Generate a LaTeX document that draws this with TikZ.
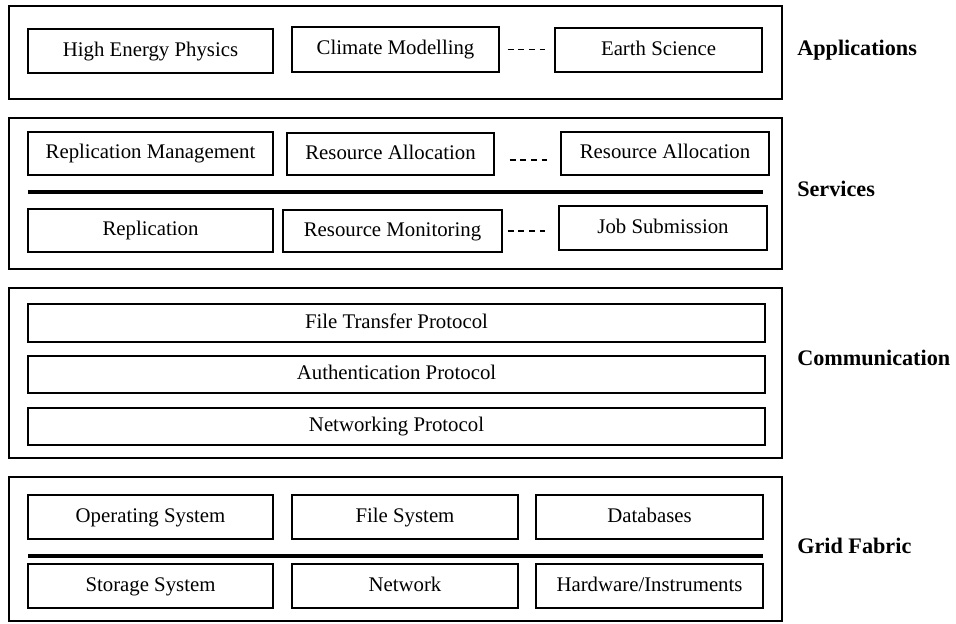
\documentclass[tikz,border=0pt]{standalone}
\usepackage{fontspec}
\setmainfont{Liberation Serif}
\usepackage{xcolor}
\usepackage{tikz}

\begin{document}
\begin{tikzpicture}[
  layerbox/.style={draw, rectangle, line width=1.4pt, minimum width=19.325cm},
  unitbox/.style={draw, rectangle, line width=0.9pt, fill=white, inner sep=0pt, text height=0.36cm, text depth=0.1cm, font=\fontsize{0.52cm}{0.62cm}\selectfont},
  layername/.style={anchor=west, inner sep=0pt, text height=0.4cm, text depth=0.11cm, font=\fontsize{0.555cm}{0.66cm}\selectfont\bfseries},
  gap/.style={line width=0.9pt, dash pattern=on 4.2pt off 3.4pt},
  bar/.style={line width=2.2pt}]%
\useasboundingbox (0,0) rectangle (23.9,-15.6);%
% layers
\node[layerbox, minimum height=2.325cm] (app) at (9.8875,-1.3125) {};%
\node[layerbox, minimum height=3.775cm] (srv) at (9.8875,-4.8375) {};%
\node[layerbox, minimum height=4.25cm] (com) at (9.8875,-9.325) {};%
\node[layerbox, minimum height=3.6cm] (fab) at (9.8875,-13.725) {};%
% applications
\node[unitbox, minimum width=6.125cm, minimum height=1.1cm] (hep) at (3.7625,-1.275) {High Energy Physics};%
\node[unitbox, minimum width=5.175cm, minimum height=1.125cm] (clim) at (9.8875,-1.2375) {Climate Modelling};%
\node[unitbox, minimum width=5.175cm, minimum height=1.1cm] (earth) at (16.4625,-1.25) {Earth Science};%
\draw[gap, shorten <=0.2cm, shorten >=0.225cm] (clim.east) -- (clim.east -| earth.west);%
% services
\node[unitbox, minimum width=6.125cm, minimum height=1.075cm] (repman) at (3.7625,-3.8375) {Replication Management};%
\node[unitbox, minimum width=5.175cm, minimum height=1.05cm] (alloca) at (9.7625,-3.85) {Resource Allocation};%
\node[unitbox, minimum width=5.2cm, minimum height=1.075cm] (allocb) at (16.625,-3.8375) {Resource Allocation};%
\draw[gap, shorten <=0.375cm, shorten >=0.325cm] ([yshift=-0.15cm]alloca.east) -- ([yshift=-0.15cm]alloca.east -| allocb.west);%
\draw[bar] (0.7,-4.8) -- (19.075,-4.8);%
\node[unitbox, minimum width=6.125cm, minimum height=1.075cm] (repl) at (3.7625,-5.7625) {Replication};%
\node[unitbox, minimum width=5.475cm, minimum height=1.05cm] (mon) at (9.8125,-5.775) {Resource Monitoring};%
\node[unitbox, minimum width=5.2cm, minimum height=1.1cm] (job) at (16.575,-5.7) {Job Submission};%
\draw[gap, shorten <=0.125cm, shorten >=0.325cm] (mon.east) -- (mon.east -| job.west);%
% communication
\node[unitbox, minimum width=18.425cm, minimum height=0.95cm] (ftp) at (9.9125,-8.075) {File Transfer Protocol};%
\node[unitbox, minimum width=18.425cm, minimum height=0.925cm] (auth) at (9.9125,-9.3625) {Authentication Protocol};%
\node[unitbox, minimum width=18.425cm, minimum height=0.925cm] (net) at (9.9125,-10.6625) {Networking Protocol};%
% grid fabric
\node[unitbox, minimum width=6.125cm, minimum height=1.1cm] (os) at (3.7625,-12.925) {Operating System};%
\node[unitbox, minimum width=5.65cm, minimum height=1.1cm] (fs) at (10.125,-12.925) {File System};%
\node[unitbox, minimum width=5.675cm, minimum height=1.1cm] (db) at (16.2375,-12.925) {Databases};%
\draw[bar] (0.7,-13.9) -- (19.075,-13.9);%
\node[unitbox, minimum width=6.125cm, minimum height=1.1cm] (sto) at (3.7625,-14.65) {Storage System};%
\node[unitbox, minimum width=5.65cm, minimum height=1.1cm] (nw) at (10.125,-14.65) {Network};%
\node[unitbox, minimum width=5.675cm, minimum height=1.1cm] (hw) at (16.2375,-14.65) {Hardware/Instruments};%
% layer names
\node[layername] (appname) at (19.925,-1.25) {Applications};%
\node[layername] (srvname) at (19.925,-4.775) {Services};%
\node[layername] (comname) at (19.925,-9.0) {Communication};%
\node[layername] (fabname) at (19.925,-13.7) {Grid Fabric};%
\end{tikzpicture}
\end{document}
